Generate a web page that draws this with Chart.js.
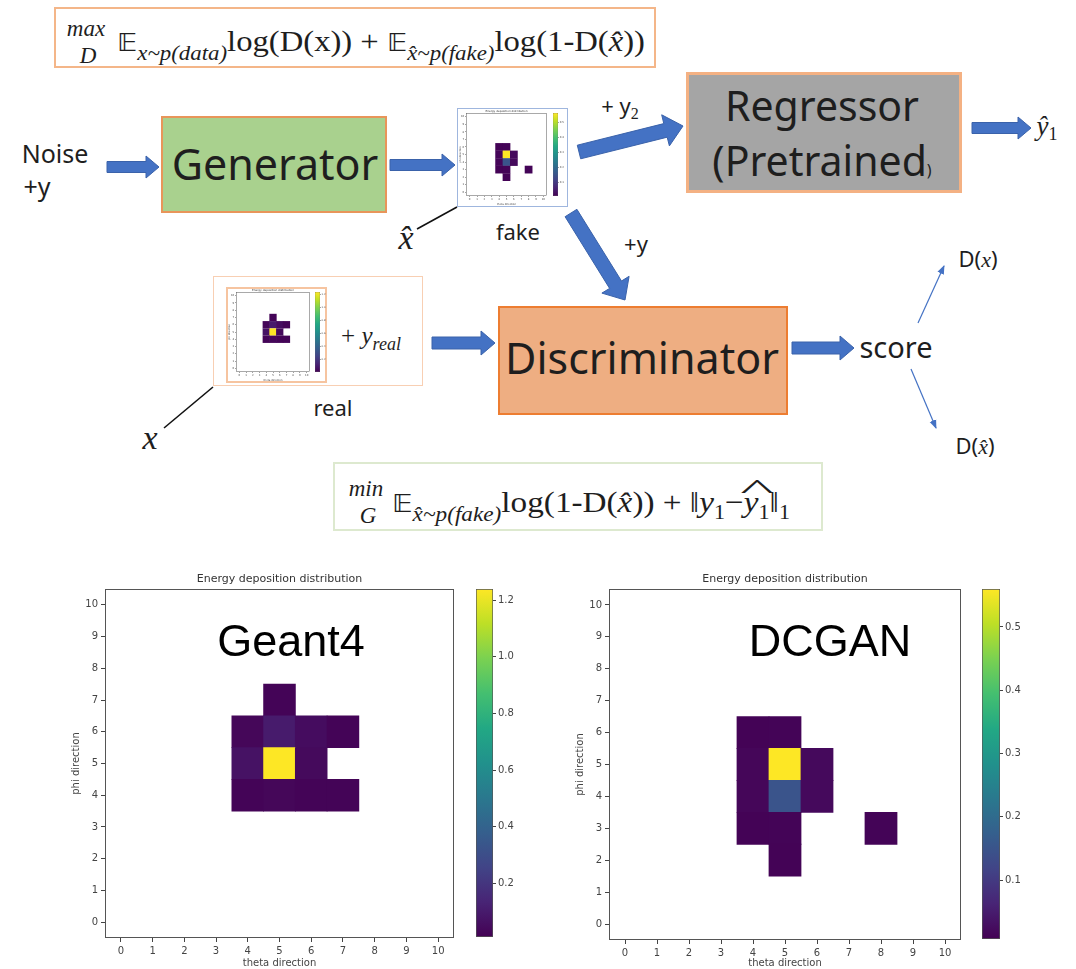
<!DOCTYPE html>
<html>
<head>
<meta charset="utf-8">
<script src="https://cdn.jsdelivr.net/npm/chart.js@4.4.1/dist/chart.umd.min.js"></script>
<style>
html, body { margin: 0; padding: 0; background: #fff; }
#page { position: relative; width: 1076px; height: 969px; overflow: hidden; background: #fff; }
canvas { position: absolute; }
.box { position: absolute; box-sizing: border-box; }
.c { position: absolute; transform: translate(-50%, -50%); white-space: nowrap; line-height: 1; }
.sans { font-family: 'Noto Sans', 'Open Sans', sans-serif; color: #1e1e1e; }
.serif { font-family: 'Liberation Serif', 'DejaVu Serif', serif; color: #1e1e1e; }
.lim { position: absolute; transform: translate(-50%, -50%); font-family: 'Liberation Serif', serif; font-style: italic; font-size: 23px; line-height: 1; color: #1e1e1e; }
.fm { position: absolute; white-space: nowrap; font-family: 'Liberation Serif', 'DejaVu Serif', serif; font-size: 30px; line-height: 1; color: #1e1e1e; transform-origin: 0 50%; }
.fm sub { font-size: 21px; font-style: italic; vertical-align: -0.45em; }
.fm sub.n { font-style: normal; font-size: 20px; vertical-align: -0.35em; }
.bb { font-family: 'DejaVu Sans', serif; font-size: 0.85em; }
.wh { position: relative; display: inline-block; }
.wh::before { content: '^'; position: absolute; left: 0; width: 100%; text-align: center; top: -0.42em; font-size: 0.9em; font-style: normal; transform: scaleX(2.4); }
#arrows { position: absolute; left: 0; top: 0; }
</style>
</head>
<body>
<div id="page">

  <!-- ---------- diagram boxes ---------- -->
  <div class="box" style="left:54px;top:7px;width:602px;height:61px;border:2px solid #f4b689;"></div>
  <div class="box" style="left:333px;top:462px;width:490px;height:69px;border:2px solid #dde9cf;"></div>

  <div class="box" style="left:161px;top:116px;width:226px;height:97px;background:#a9d18e;border:2px solid #e8955a;"></div>
  <div class="box" style="left:686px;top:72px;width:276px;height:121px;background:#a5a5a5;border:3px solid #f4b183;"></div>
  <div class="box" style="left:498px;top:306px;width:290px;height:109px;background:#eeae82;border:2px solid #ed7d31;"></div>

  <div class="box" style="left:457px;top:108px;width:111px;height:99px;border:1px solid #9fb6de;background:#fff;"></div>
  <div class="box" style="left:213px;top:276px;width:210px;height:110px;border:1px solid #f8cfb3;background:#fff;"></div>
  <div class="box" style="left:226px;top:287px;width:101px;height:96px;border:2px solid #f6c4a0;"></div>

  <svg id="arrows" width="1076" height="969">
    <defs>
      <marker id="ah" markerWidth="9" markerHeight="8" refX="8" refY="4" orient="auto" markerUnits="userSpaceOnUse">
        <path d="M0,0.5 L9,4 L0,7.5 z" fill="#4472c4"/>
      </marker>
    </defs>
    <line x1="417" y1="229" x2="457" y2="207" stroke="#111" stroke-width="1.6"/>
    <line x1="164" y1="428" x2="213" y2="387" stroke="#111" stroke-width="1.6"/>
    <line x1="918" y1="323" x2="944" y2="266" stroke="#4472c4" stroke-width="1.2" marker-end="url(#ah)"/>
    <line x1="911" y1="369" x2="936" y2="428" stroke="#4472c4" stroke-width="1.2" marker-end="url(#ah)"/>
  </svg>

  <!-- ---------- formulas ---------- -->
  <div class="lim" style="left:86px;top:28px;">max</div>
  <div class="lim" style="left:88px;top:55px;">D</div>
  <div class="fm" id="f1" style="left:117px;top:26px;"><span class="bb">𝔼</span><sub>x~p(data)</sub>log(D(x)) + <span class="bb">𝔼</span><sub>x̂~p(fake)</sub>log(1-D(<i>x̂</i>))</div>

  <div class="lim" style="left:366px;top:488px;">min</div>
  <div class="lim" style="left:368px;top:515px;">G</div>
  <div class="fm" id="f2" style="left:392px;top:487px;"><span class="bb">𝔼</span><sub>x̂~p(fake)</sub>log(1-D(<i>x̂</i>)) + ‖<i>y</i><sub class="n">1</sub>−<span class="wh"><i>y</i><sub class="n">1</sub></span>‖<sub class="n">1</sub></div>

  <!-- ---------- diagram text ---------- -->
  <div class="c sans" style="left:55px;top:153px;font-size:25px;">Noise</div>
  <div class="c sans" style="left:37px;top:186px;font-size:25px;">+y</div>
  <div class="c sans" style="left:275px;top:163px;font-size:43px;">Generator</div>
  <div class="c sans" style="left:822px;top:105px;font-size:41px;">Regressor</div>
  <div class="c sans" style="left:822px;top:160px;font-size:41px;">(Pretrained<span style="font-size:16px;">)</span></div>
  <div class="c sans" style="left:642px;top:357px;font-size:43px;">Discriminator</div>
  <div class="c sans" style="left:896px;top:346px;font-size:29px;">score</div>
  <div class="c sans" style="left:518px;top:231px;font-size:22px;">fake</div>
  <div class="c sans" style="left:333px;top:407px;font-size:22px;">real</div>
  <div class="c sans" style="left:636px;top:243px;font-size:22px;">+y</div>
  <div class="c sans" style="left:620px;top:108px;font-size:22px;">+ y<span class="serif" style="font-size:16px;vertical-align:-0.3em;">2</span></div>
  <div class="c serif" style="left:371px;top:338px;font-size:25px;">+ <i>y</i><i style="font-size:18px;vertical-align:-0.3em;">real</i></div>
  <div class="c serif" style="left:1047px;top:128px;font-size:27px;"><i>ŷ</i><span style="font-size:18px;vertical-align:-0.3em;">1</span></div>
  <div class="c serif" style="left:406px;top:238px;font-size:34px;"><i>x̂</i></div>
  <div class="c serif" style="left:150px;top:438px;font-size:34px;"><i>x</i></div>
  <div class="c sans" style="left:978px;top:259px;font-size:22px;">D(<i class="serif">x</i>)</div>
  <div class="c sans" style="left:975px;top:446px;font-size:22px;">D(<i class="serif">x̂</i>)</div>

  <!-- ---------- heatmaps ---------- -->
  <canvas id="heatReal" width="85" height="94" style="left:227px;top:288px;"></canvas>
  <canvas id="barReal" width="14" height="94" style="left:312px;top:288px;"></canvas>
  <canvas id="heatFake" width="91" height="97" style="left:458px;top:109px;"></canvas>
  <canvas id="barFake" width="18" height="97" style="left:549px;top:109px;"></canvas>

  <canvas id="heatGeant" width="400" height="404" style="left:60px;top:565px;"></canvas>
  <canvas id="barGeant" width="60" height="404" style="left:470px;top:565px;"></canvas>
  <canvas id="heatDcgan" width="403" height="404" style="left:564px;top:565px;"></canvas>
  <canvas id="barDcgan" width="60" height="404" style="left:976px;top:565px;"></canvas>

  <div class="c" style="left:291px;top:640px;font-family:'Liberation Sans',Arial,sans-serif;font-size:45px;color:#000;">Geant4</div>
  <div class="c" style="left:830px;top:640px;font-family:'Liberation Sans',Arial,sans-serif;font-size:45px;color:#000;">DCGAN</div>
</div>

<script>
// ---------- data ----------
const thetaTicks = [0, 1, 2, 3, 4, 5, 6, 7, 8, 9, 10];
const phiTicks = [0, 1, 2, 3, 4, 5, 6, 7, 8, 9, 10];

const geantTheta  = [5, 4, 5, 6, 7, 4, 5, 6, 4, 5, 6, 7];
const geantPhi    = [7, 6, 6, 6, 6, 5, 5, 5, 4, 4, 4, 4];
const geantEnergy = [0.02, 0.03, 0.10, 0.05, 0.02, 0.07, 1.24, 0.04, 0.02, 0.03, 0.02, 0.02];
const geantRange  = [0.01, 1.24];
const geantBarTicks = [0.2, 0.4, 0.6, 0.8, 1.0, 1.2];

const dcganTheta  = [4, 5, 4, 5, 6, 4, 5, 6, 4, 5, 8, 5];
const dcganPhi    = [6, 6, 5, 5, 5, 4, 4, 4, 3, 3, 3, 2];
const dcganEnergy = [0.010, 0.012, 0.015, 0.56, 0.02, 0.015, 0.15, 0.02, 0.010, 0.012, 0.012, 0.010];
const dcganRange  = [0.007, 0.56];
const dcganBarTicks = [0.1, 0.2, 0.3, 0.4, 0.5];

// viridis colour stops
const viridis = ['#440154', '#482475', '#414487', '#355f8d', '#2a788e', '#21918c',
                 '#22a884', '#44bf70', '#7ad151', '#bddf26', '#fde725'];

Chart.defaults.font.family = "'DejaVu Sans', sans-serif";
Chart.defaults.color = '#444';

function hexRgb(h) {
    return [parseInt(h.slice(1, 3), 16), parseInt(h.slice(3, 5), 16), parseInt(h.slice(5, 7), 16)];
}

function viridisColor(t) {
    t = Math.max(0, Math.min(1, t));
    const p = t * (viridis.length - 1);
    const i = Math.min(Math.floor(p), viridis.length - 2);
    const f = p - i;
    const a = hexRgb(viridis[i]), b = hexRgb(viridis[i + 1]);
    return `rgb(${a.map((v, k) => Math.round(v + (b[k] - v) * f)).join(',')})`;
}

const framePlugin = {
    id: 'frame',
    afterDraw(chart, args, o) {
        const a = chart.chartArea, ctx = chart.ctx;
        ctx.save();
        ctx.strokeStyle = '#555';
        ctx.lineWidth = o.width || 1;
        ctx.strokeRect(a.left + 0.5, a.top + 0.5, a.right - a.left - 1, a.bottom - a.top - 1);
        if (o.text) {
            ctx.fillStyle = '#333';
            ctx.font = `${o.size}px 'DejaVu Sans'`;
            ctx.textAlign = 'center';
            ctx.textBaseline = 'middle';
            ctx.fillText(o.text, (a.left + a.right) / 2, a.top - o.gap);
        }
        ctx.restore();
    }
};

function cellSize(c) {
    const xs = c.chart.scales.x, ys = c.chart.scales.y;
    const w = Math.abs(xs.getPixelForValue(1) - xs.getPixelForValue(0));
    const h = Math.abs(ys.getPixelForValue(1) - ys.getPixelForValue(0));
    return (w + h) / 2;
}

function makeHeatmap(id, theta, phi, energy, range, g) {
    const [vmin, vmax] = range;
    const color = c => c.raw ? viridisColor((c.raw.v - vmin) / (vmax - vmin)) : viridis[0];
    const axis = (ticks, title, isX) => ({
        type: 'linear',
        min: -0.5,
        max: 10.5,
        afterBuildTicks: s => { s.ticks = ticks.map(v => ({ value: v })); },
        afterFit: s => { if (isX) s.height = g.xh; else s.width = g.yw; },
        ticks: { font: { size: g.fs }, color: '#444', padding: g.tp, autoSkip: false, maxRotation: 0 },
        grid: { drawOnChartArea: false, drawTicks: true, tickLength: g.tl, tickColor: '#444', lineWidth: g.lw },
        border: { display: false },
        title: { display: true, text: title, font: { size: g.fs }, color: '#444',
                 padding: isX ? { top: 0, bottom: g.xtp } : { top: g.ytp, bottom: 0 } }
    });
    new Chart(document.getElementById(id), {
        type: 'scatter',
        data: {
            datasets: [{
                data: theta.map((x, i) => ({ x: x, y: phi[i], v: energy[i] })),
                pointStyle: 'rect',
                // a hair bigger than one cell so neighbours close up without seams
                pointRadius: c => (cellSize(c) + g.ov) / Math.SQRT2,
                pointHoverRadius: c => (cellSize(c) + g.ov) / Math.SQRT2,
                backgroundColor: color,
                borderWidth: 0
            }]
        },
        plugins: [framePlugin],
        options: {
            responsive: false,
            animation: false,
            events: [],
            devicePixelRatio: 1,
            layout: { padding: { top: g.top, right: g.right, left: 0, bottom: 0 } },
            plugins: {
                legend: { display: false },
                tooltip: { enabled: false },
                frame: { text: 'Energy deposition distribution', size: g.ts, gap: g.tg, width: g.lw }
            },
            scales: { x: axis(thetaTicks, 'theta direction', true), y: axis(phiTicks, 'phi direction', false) }
        }
    });
}

function makeColorbar(id, range, barTicks, g) {
    const [vmin, vmax] = range;
    new Chart(document.getElementById(id), {
        type: 'bar',
        data: {
            labels: [''],
            datasets: [{
                data: [[vmin, vmax]],
                backgroundColor: c => {
                    const a = c.chart.chartArea;
                    if (!a) return viridis[0];
                    const grad = c.chart.ctx.createLinearGradient(0, a.bottom, 0, a.top);
                    viridis.forEach((col, i) => grad.addColorStop(i / (viridis.length - 1), col));
                    return grad;
                },
                borderColor: '#555',
                borderWidth: g.lw,
                borderSkipped: false,
                barPercentage: 1,
                categoryPercentage: 1
            }]
        },
        options: {
            responsive: false,
            animation: false,
            events: [],
            devicePixelRatio: 1,
            layout: { padding: { top: g.top, bottom: g.bottom, left: g.left, right: 0 } },
            plugins: { legend: { display: false }, tooltip: { enabled: false } },
            scales: {
                x: { display: false },
                y: {
                    position: 'right',
                    min: vmin,
                    max: vmax,
                    afterBuildTicks: s => { s.ticks = barTicks.map(v => ({ value: v })); },
                    afterFit: s => { s.width = g.aw; },
                    ticks: { font: { size: g.fs }, color: '#444', padding: g.tp, callback: v => v.toFixed(1) },
                    grid: { drawOnChartArea: false, tickLength: g.tl, tickColor: '#444', lineWidth: g.lw },
                    border: { display: false }
                }
            }
        }
    });
}

// ---------- big charts ----------
const bigGeo = { fs: 10, ts: 11, tg: 10, tl: 4, tp: 3, lw: 1, yw: 45, xh: 31, ytp: 10, xtp: 0, top: 24, right: 6, ov: 0.8 };
makeHeatmap('heatGeant', geantTheta, geantPhi, geantEnergy, geantRange, bigGeo);
makeHeatmap('heatDcgan', dcganTheta, dcganPhi, dcganEnergy, dcganRange, Object.assign({}, bigGeo, { xh: 29 }));
makeColorbar('barGeant', geantRange, geantBarTicks, { fs: 10, tl: 3, tp: 2, lw: 1, top: 24, bottom: 32, left: 6, aw: 37 });
makeColorbar('barDcgan', dcganRange, dcganBarTicks, { fs: 10, tl: 3, tp: 2, lw: 1, top: 24, bottom: 30, left: 6, aw: 36 });

// ---------- thumbnails in the diagram ----------
const miniGeo = { fs: 2.6, ts: 2.8, tg: 2, tl: 1, tp: 0.8, lw: 0.5, yw: 8, xh: 10, ytp: 1, xtp: 0.5, top: 4, right: 2, ov: 0.3 };
makeHeatmap('heatFake', dcganTheta, dcganPhi, dcganEnergy, dcganRange, miniGeo);
makeColorbar('barFake', dcganRange, dcganBarTicks, { fs: 2.6, tl: 1, tp: 0.8, lw: 0.5, top: 4, bottom: 10, left: 4, aw: 9 });
makeHeatmap('heatReal', geantTheta, geantPhi, geantEnergy, geantRange, Object.assign({}, miniGeo, { yw: 9 }));
makeColorbar('barReal', geantRange, geantBarTicks, { fs: 2.4, tl: 1, tp: 0.6, lw: 0.5, top: 4, bottom: 10, left: 3, aw: 6 });

// ---------- block arrows ----------
function blockArrow(x1, y1, x2, y2, sw, hw, hl) {
    const L = Math.hypot(x2 - x1, y2 - y1), ux = (x2 - x1) / L, uy = (y2 - y1) / L;
    const nx = -uy, ny = ux, bx = x2 - ux * hl, by = y2 - uy * hl;
    const pts = [
        [x1 + nx * sw / 2, y1 + ny * sw / 2], [bx + nx * sw / 2, by + ny * sw / 2],
        [bx + nx * hw / 2, by + ny * hw / 2], [x2, y2],
        [bx - nx * hw / 2, by - ny * hw / 2], [bx - nx * sw / 2, by - ny * sw / 2],
        [x1 - nx * sw / 2, y1 - ny * sw / 2]
    ];
    const p = document.createElementNS('http://www.w3.org/2000/svg', 'polygon');
    p.setAttribute('points', pts.map(q => q[0].toFixed(1) + ',' + q[1].toFixed(1)).join(' '));
    p.setAttribute('fill', '#4472c4');
    p.setAttribute('stroke', '#3a62aa');
    p.setAttribute('stroke-width', '1');
    document.getElementById('arrows').appendChild(p);
}
blockArrow(107, 167, 159, 167, 11, 22, 13);
blockArrow(390, 165, 455, 165, 11, 22, 13);
blockArrow(579, 152, 683, 126, 14, 32, 18);
blockArrow(571, 213, 625, 300, 14, 32, 18);
blockArrow(432, 343, 495, 343, 12, 24, 14);
blockArrow(792, 348, 854, 348, 12, 24, 14);
blockArrow(972, 128, 1031, 128, 11, 22, 13);

// stretch formulas to the width they take in the slide
function fitWidth(id, target) {
    const el = document.getElementById(id);
    el.style.transform = 'none';
    const w = el.getBoundingClientRect().width;
    el.style.transform = `scaleX(${target / w})`;
}
function fitAll() {
    fitWidth('f1', 528);
    fitWidth('f2', 398);
}
fitAll();
if (document.fonts && document.fonts.ready) document.fonts.ready.then(fitAll);
</script>
</body>
</html>
